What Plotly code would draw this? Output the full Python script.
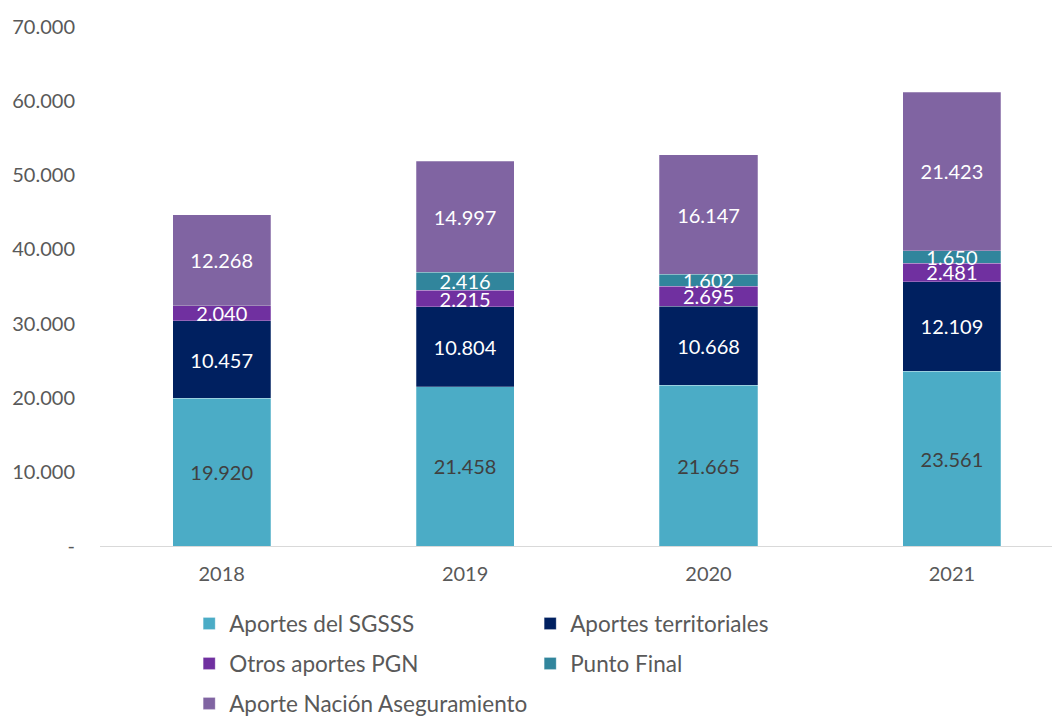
import plotly.graph_objects as go

years = ["2018", "2019", "2020", "2021"]
series_names = ["Aportes del SGSSS", "Aportes territoriales", "Otros aportes PGN",
                "Punto Final", "Aporte Nación Aseguramiento"]
sgsss = [19920, 21458, 21665, 23561]
territoriales = [10457, 10804, 10668, 12109]
otros_pgn = [2040, 2215, 2695, 2481]
punto_final = [None, 2416, 1602, 1650]
nacion = [12268, 14997, 16147, 21423]
y_tick_vals = [0, 10000, 20000, 30000, 40000, 50000, 60000, 70000]
y_tick_text = ["-", "10.000", "20.000", "30.000", "40.000", "50.000", "60.000", "70.000"]

colors = ["#4BACC6", "#002060", "#7030A0", "#31859C", "#8064A2"]
text_colors = ["#404040", "white", "white", "white", "white"]
legend_ids = ["legend", "legend", "legend2", "legend2", "legend3"]
FONT = "Lato, Century Gothic, sans-serif"


def fmt(v):
    if v is None:
        return ""
    return f"{v:,}".replace(",", ".")


fig = go.Figure()
for name, vals, c, tc, lg in zip(series_names,
                                 [sgsss, territoriales, otros_pgn, punto_final, nacion],
                                 colors, text_colors, legend_ids):
    fig.add_trace(go.Bar(
        x=years, y=vals, name=name, legend=lg,
        marker=dict(color=c, line=dict(color="rgba(255,255,255,0.5)", width=0.5)),
        text=[fmt(v) for v in vals], textposition="inside",
        insidetextanchor="middle", constraintext="none",
        textfont=dict(color=tc, size=20, family=FONT),
        cliponaxis=False,
    ))

leg_common = dict(orientation="h", x=0.0929, xanchor="left", yanchor="middle",
                  entrywidth=296, entrywidthmode="pixels", traceorder="normal",
                  bgcolor="rgba(0,0,0,0)",
                  font=dict(size=22.5, color="#595959", family=FONT))

fig.update_layout(
    barmode="stack", bargap=0.597,
    width=1060, height=717,
    margin=dict(l=92, r=8, t=19, b=179, autoexpand=False),
    paper_bgcolor="white", plot_bgcolor="white",
    font=dict(family=FONT, size=20, color="#595959"),
    uniformtext=dict(mode="show", minsize=20),
    showlegend=True,
    legend=dict(y=-0.150, **leg_common),
    legend2=dict(y=-0.227, **leg_common),
    legend3=dict(y=-0.304, **leg_common),
    xaxis=dict(range=[-0.5, 3.444], showline=True, linecolor="#D9D9D9", linewidth=1,
               ticks="", showgrid=False, ticklabelstandoff=10,
               tickfont=dict(size=20, color="#595959")),
    yaxis=dict(range=[0, 70000], tickvals=y_tick_vals, ticktext=y_tick_text,
               showgrid=False, zeroline=False, showline=False, ticks="",
               ticklabelstandoff=24, tickfont=dict(size=20, color="#595959")),
)

fig.write_html("out.html")
